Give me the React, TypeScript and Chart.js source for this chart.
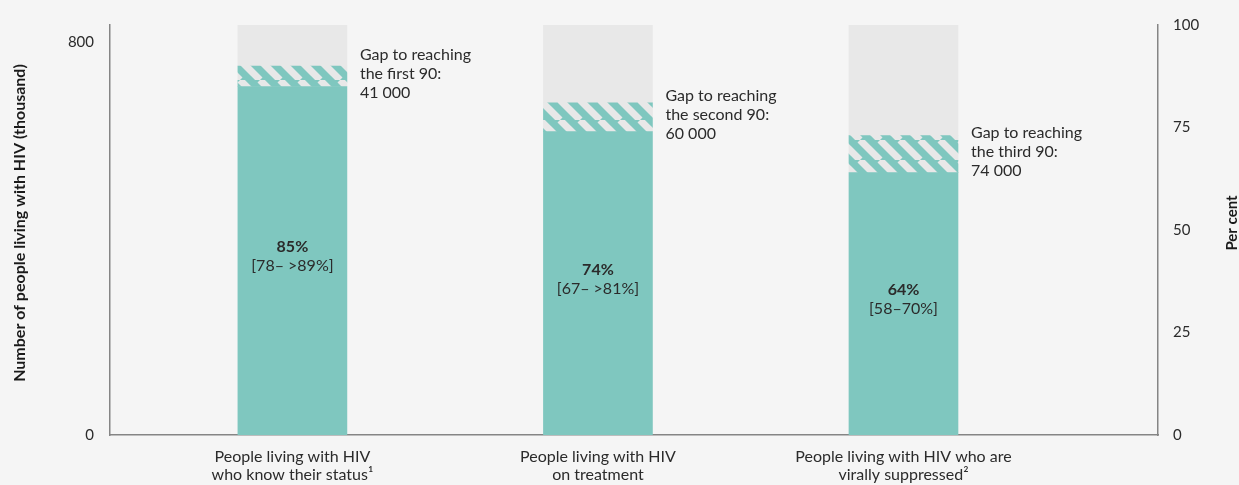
import React, { useEffect, useRef } from "react";
import { Chart, registerables } from "chart.js";
Chart.register(...registerables);

// ---- data ----
const categories: string[][] = [
  ["People living with HIV", "who know their status¹"],
  ["People living with HIV", "on treatment"],
  ["People living with HIV who are", "virally suppressed²"],
];
const achievedPct = [85, 74, 64];
const gapPct = [5, 7, 9];
const remainderPct = [10, 19, 27];
const achievedLabels = ["85%", "74%", "64%"];
const rangeLabels = ["[78– >89%]", "[67– >81%]", "[58–70%]"];
const gapLabels: string[][] = [
  ["Gap to reaching", "the first 90:", "41 000"],
  ["Gap to reaching", "the second 90:", "60 000"],
  ["Gap to reaching", "the third 90:", "74 000"],
];
const leftTicks = [0, 800];
const rightTicks = [0, 25, 50, 75, 100];
const totalPlhivThousand = 835;
const leftTitle = "Number of people living with HIV (thousand)";
const rightTitle = "Per cent";

const TEAL = "#7fc7bf";
const GREY = "#e8e8e8";
const BG = "#f5f5f5";
const AXIS = "#858585";
const TEXT = "#2b2b2b";
const FONT = "Lato, 'Noto Sans', sans-serif";

function makeHatch(): CanvasPattern | string {
  const c = document.createElement("canvas");
  c.width = 20;
  c.height = 20;
  const g = c.getContext("2d");
  if (!g) return TEAL;
  g.fillStyle = TEAL;
  g.fillRect(0, 0, 20, 20);
  g.strokeStyle = GREY;
  g.lineWidth = 7;
  for (const k of [-20, 0, 20]) {
    g.beginPath();
    g.moveTo(k, 0);
    g.lineTo(k + 20, 20);
    g.stroke();
  }
  return g.createPattern(c, "repeat") || TEAL;
}

const bgPlugin = {
  id: "bg",
  beforeDraw(chart: any) {
    const ctx = chart.ctx;
    ctx.save();
    ctx.fillStyle = BG;
    ctx.fillRect(0, 0, chart.width, chart.height);
    ctx.restore();
  },
};

const annotPlugin = {
  id: "annot",
  afterDatasetsDraw(chart: any) {
    const ctx = chart.ctx;
    const metaA = chart.getDatasetMeta(0);
    const metaG = chart.getDatasetMeta(1);
    ctx.save();
    ctx.textBaseline = "middle";
    ctx.fillStyle = TEXT;
    metaA.data.forEach((bar: any, i: number) => {
      const mid = (bar.y + bar.base) / 2 - 4;
      ctx.textAlign = "center";
      ctx.font = `bold 16px ${FONT}`;
      ctx.fillText(achievedLabels[i], bar.x, mid - 9.5);
      ctx.font = `16px ${FONT}`;
      ctx.fillText(rangeLabels[i], bar.x, mid + 9.5);
      const g = metaG.data[i];
      const gMid = (g.y + g.base) / 2 - 2;
      ctx.textAlign = "left";
      const x = g.x + g.width / 2 + 13;
      gapLabels[i].forEach((line, j) => {
        ctx.fillText(line, x, gMid + (j - 1) * 19);
      });
    });
    // axis titles
    const area = chart.chartArea;
    const cy = (area.top + area.bottom) / 2 - 7;
    ctx.textAlign = "center";
    ctx.fillStyle = "#1a1a1a";
    ctx.save();
    ctx.font = `bold 16px ${FONT}`;
    ctx.translate(20, cy);
    ctx.rotate(-Math.PI / 2);
    ctx.fillText(leftTitle, 0, 0);
    ctx.restore();
    ctx.save();
    ctx.font = `bold 15px ${FONT}`;
    ctx.translate(1232, cy);
    ctx.rotate(-Math.PI / 2);
    ctx.fillText(rightTitle, 0, 0);
    ctx.restore();
    ctx.restore();
  },
};

export default function App() {
  const ref = useRef<HTMLCanvasElement>(null);
  useEffect(() => {
    document.body.style.margin = "0";
    if (!ref.current) return;
    const hatch = makeHatch();
    const idx = categories.map((_, i) => i);
    const chart = new Chart(ref.current, {
      type: "bar",
      data: {
        datasets: [
          { data: idx.map((i) => ({ x: i, y: achievedPct[i] })), backgroundColor: TEAL, yAxisID: "yR" },
          { data: idx.map((i) => ({ x: i, y: gapPct[i] })), backgroundColor: hatch as any, yAxisID: "yR" },
          { data: idx.map((i) => ({ x: i, y: remainderPct[i] })), backgroundColor: GREY, yAxisID: "yR" },
        ],
      },
      options: {
        animation: false,
        responsive: false,
        maintainAspectRatio: false,
        events: [],
        layout: { padding: { top: 23, left: 0, right: 0, bottom: 0 } },
        datasets: { bar: { barThickness: 109, borderWidth: 0 } } as any,
        plugins: { legend: { display: false }, tooltip: { enabled: false } },
        scales: {
          x: {
            type: "linear",
            stacked: true,
            offset: false,
            min: -0.597,
            max: 2.833,
            grid: { display: false, drawTicks: false, offset: false },
            border: { display: true, color: AXIS, width: 1.5 },
            afterBuildTicks: (s: any) => {
              s.ticks = idx.map((v) => ({ value: v }));
            },
            afterFit: (s: any) => {
              s.height = 50;
            },
            ticks: {
              autoSkip: false,
              maxRotation: 0,
              padding: 13,
              color: TEXT,
              font: { family: FONT, size: 16, lineHeight: "18px" },
              callback: (v: any) => categories[v as number] ?? "",
            },
          },
          yL: {
            type: "linear",
            position: "left",
            min: 0,
            max: totalPlhivThousand,
            grid: { display: false, drawTicks: false },
            border: { display: true, color: AXIS, width: 1.5 },
            afterBuildTicks: (s: any) => {
              s.ticks = leftTicks.map((v) => ({ value: v }));
            },
            afterFit: (s: any) => {
              s.width = 110;
            },
            ticks: { padding: 16, color: TEXT, font: { family: FONT, size: 15 } },
          },
          yR: {
            type: "linear",
            position: "right",
            stacked: true,
            min: 0,
            max: 100,
            grid: { display: false, drawTicks: false },
            border: { display: true, color: AXIS, width: 1.5 },
            afterBuildTicks: (s: any) => {
              s.ticks = rightTicks.map((v) => ({ value: v }));
            },
            afterFit: (s: any) => {
              s.width = 81;
            },
            ticks: { padding: 15, color: TEXT, font: { family: FONT, size: 15 } },
          },
        },
      },
      plugins: [bgPlugin, annotPlugin],
    });
    return () => chart.destroy();
  }, []);
  return (
    <div style={{ position: "fixed", left: 0, top: 0, width: 1239, height: 485, background: BG }}>
      <canvas ref={ref} width={1239} height={485} style={{ width: 1239, height: 485, display: "block" }} />
    </div>
  );
}
